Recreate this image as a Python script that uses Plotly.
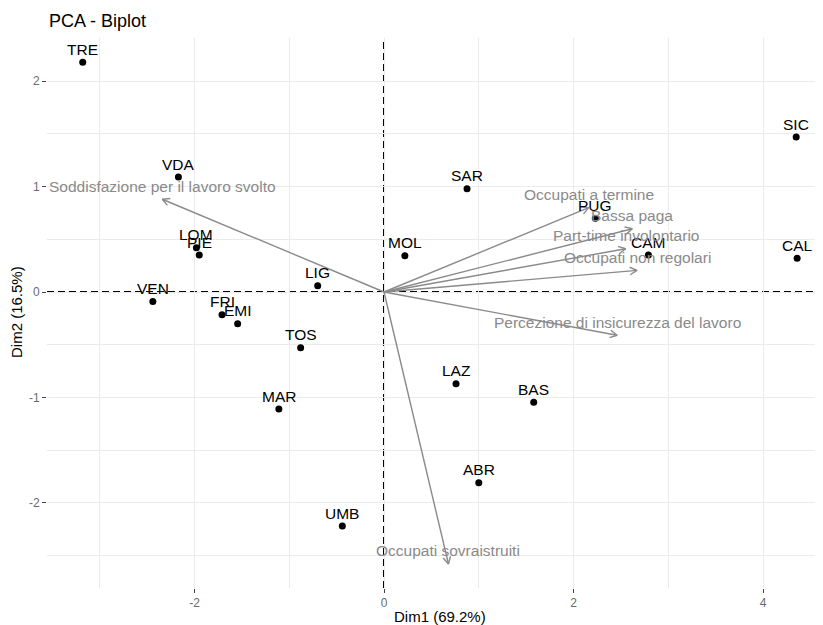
import numpy as np
import plotly.graph_objects as go

# ---- Data ----
regions = ["TRE", "VDA", "LOM", "PIE", "LIG", "VEN", "FRI", "EMI", "TOS", "MAR",
           "UMB", "MOL", "SAR", "PUG", "CAM", "CAL", "SIC", "LAZ", "BAS", "ABR"]
region_dim1 = [-3.18, -2.17, -1.98, -1.95, -0.70, -2.44, -1.71, -1.545, -0.88, -1.11,
               -0.44, 0.22, 0.876, 2.23, 2.79, 4.36, 4.35, 0.76, 1.58, 1.00]
region_dim2 = [2.18, 1.09, 0.42, 0.35, 0.06, -0.09, -0.215, -0.30, -0.53, -1.11,
               -2.22, 0.345, 0.98, 0.70, 0.35, 0.32, 1.47, -0.87, -1.045, -1.81]

variables = ["Soddisfazione per il lavoro svolto", "Occupati a termine", "Bassa paga",
             "Part-time involontario", "Occupati non regolari",
             "Percezione di insicurezza del lavoro", "Occupati sovraistruiti"]
var_dim1 = [-2.34, 2.16, 2.62, 2.55, 2.67, 2.46, 0.68]
var_dim2 = [0.88, 0.80, 0.60, 0.41, 0.205, -0.41, -2.58]

x_ticks = [-2, 0, 2, 4]
y_ticks = [-2, -1, 0, 1, 2]

title_text = "PCA - Biplot"
x_title = "Dim1 (69.2%)"
y_title = "Dim2 (16.5%)"

# ---- Layout geometry (page has an 8px body margin) ----
OFF = 8
W, H = 823 - OFF, 625 - OFF
ML, MR, MT, MB = 47 - OFF, 0, 38 - OFF, 625 - 588
PW, PH = W - ML - MR, H - MT - MB
x_range = [-3.557, 4.633]
y_range = [-2.808, 2.4096]
sx = PW / (x_range[1] - x_range[0])
sy = PH / (y_range[1] - y_range[0])

FONT = "Liberation Sans, Arial, sans-serif"
GRAY = "#8a8a8a"

fig = go.Figure()

# ---- Arrows (open heads computed in pixel space) ----
ax, ay = [], []
head_len = 8.0
ang = np.deg2rad(28)
for vx, vy in zip(var_dim1, var_dim2):
    ax += [0, vx, None]
    ay += [0, vy, None]
    dx, dy = vx * sx, vy * sy
    n = np.hypot(dx, dy)
    ux, uy = dx / n, dy / n
    pts = []
    for s in (1, -1):
        c, si = np.cos(s * ang), np.sin(s * ang)
        rx = -(ux * c - uy * si)
        ry = -(ux * si + uy * c)
        pts.append((vx + head_len * rx / sx, vy + head_len * ry / sy))
    ax += [pts[0][0], vx, pts[1][0], None]
    ay += [pts[0][1], vy, pts[1][1], None]

fig.add_trace(go.Scatter(x=ax, y=ay, mode="lines",
                         line=dict(color=GRAY, width=1.4),
                         hoverinfo="skip", showlegend=False))

# ---- Individuals ----
fig.add_trace(go.Scatter(x=region_dim1, y=region_dim2, mode="markers",
                         marker=dict(color="black", size=7),
                         showlegend=False))

annotations = []
for name, x, y in zip(regions, region_dim1, region_dim2):
    annotations.append(dict(x=x, y=y, xref="x", yref="y", text=name, showarrow=False,
                            xanchor="center", yanchor="middle", yshift=13,
                            font=dict(family=FONT, size=15.5, color="black")))
for name, x, y in zip(variables, var_dim1, var_dim2):
    annotations.append(dict(x=x, y=y, xref="x", yref="y", text=name, showarrow=False,
                            xanchor="center", yanchor="middle", yshift=13,
                            font=dict(family=FONT, size=15.5, color=GRAY)))


def px_x(page_x):
    return (page_x - OFF - ML) / PW


def px_y(page_y):
    return (H - MB - (page_y - OFF)) / PH


# titles
annotations.append(dict(x=px_x(47), y=px_y(21), xref="paper", yref="paper",
                        text=title_text, showarrow=False, xanchor="left", yanchor="middle",
                        font=dict(family=FONT, size=18, color="black")))
annotations.append(dict(x=px_x(440), y=px_y(616), xref="paper", yref="paper",
                        text=x_title, showarrow=False, xanchor="center", yanchor="middle",
                        font=dict(family=FONT, size=15, color="black")))
annotations.append(dict(x=px_x(16), y=px_y(312), xref="paper", yref="paper",
                        text=y_title, showarrow=False, textangle=-90,
                        xanchor="center", yanchor="middle",
                        font=dict(family=FONT, size=15, color="black")))

shapes = [
    dict(type="line", xref="x", yref="paper", x0=0, x1=0, y0=0, y1=1, layer="below",
         line=dict(color="black", width=2, dash="7px,4px")),
    dict(type="line", xref="paper", yref="y", x0=0, x1=1, y0=0, y1=0, layer="below",
         line=dict(color="black", width=2, dash="7px,4px")),
]

fig.update_layout(
    width=W, height=H,
    margin=dict(l=ML, r=MR, t=MT, b=MB),
    paper_bgcolor="white", plot_bgcolor="white",
    font=dict(family=FONT),
    annotations=annotations, shapes=shapes,
    showlegend=False,
    xaxis=dict(range=x_range, tickvals=x_ticks, ticktext=[str(v) for v in x_ticks],
               showgrid=True, gridcolor="#ebebeb", gridwidth=1.2, zeroline=False,
               showline=False, ticks="outside", ticklen=4, tickwidth=1, tickcolor="#444",
               tickfont=dict(family=FONT, size=12, color="#6b6b6b"),
               minor=dict(tickvals=[-3, -1, 1, 3], showgrid=True, gridcolor="#ebebeb",
                          gridwidth=0.9, ticks=""),
               fixedrange=True),
    yaxis=dict(range=y_range, tickvals=y_ticks, ticktext=[str(v) for v in y_ticks],
               showgrid=True, gridcolor="#ebebeb", gridwidth=1.2, zeroline=False,
               showline=False, ticks="outside", ticklen=4, tickwidth=1, tickcolor="#444",
               tickfont=dict(family=FONT, size=12, color="#6b6b6b"),
               minor=dict(tickvals=[-2.5, -1.5, -0.5, 0.5, 1.5], showgrid=True,
                          gridcolor="#ebebeb", gridwidth=0.9, ticks=""),
               fixedrange=True),
)

fig.write_html("out.html")
